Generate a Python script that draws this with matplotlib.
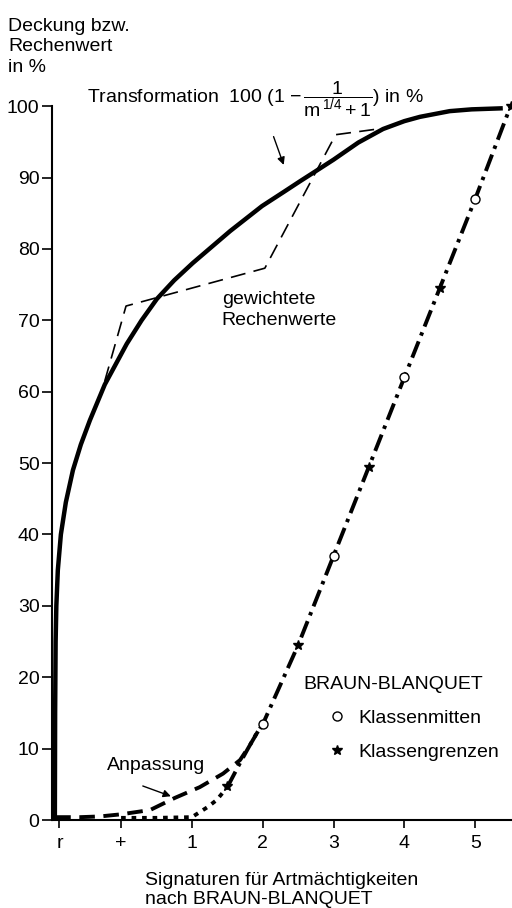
import numpy as np
import matplotlib.pyplot as plt
from matplotlib.lines import Line2D

plt.rcParams['font.family'] = ['Liberation Sans', 'DejaVu Sans']
plt.rcParams['mathtext.fontset'] = 'custom'
plt.rcParams['mathtext.rm'] = 'Liberation Sans'
plt.rcParams['mathtext.it'] = 'Liberation Sans'

# tick positions / labels on the x axis (Braun-Blanquet signatures)
tick_pos = [-0.87, 0, 1, 2, 3, 4, 5]
tick_labels = ['r', '+', '1', '2', '3', '4', '5']

# transformation curve 100 (1 - 1/(m^1/4 + 1))
trans_x = [-0.935, -0.931, -0.924, -0.914, -0.893, -0.85, -0.78, -0.68, -0.568,
           -0.44, -0.23, 0.08, 0.29, 0.506, 0.75, 1.01, 1.54, 1.99, 2.3, 2.53,
           2.75, 3.0, 3.35, 3.7, 4.0, 4.22, 4.64, 4.95, 5.39]
trans_y = [0, 15, 25, 30, 35, 40, 44.5, 49, 52.6,
           56, 61, 66.7, 70, 73, 75.6, 78, 82.5, 86, 88, 89.5,
           90.9, 92.5, 94.9, 96.8, 97.9, 98.5, 99.3, 99.55, 99.7]

# gewichtete Rechenwerte
weighted_x = [-0.23, 0.07, 2.03, 3.03, 3.7]
weighted_y = [61.5, 72, 77.3, 96, 96.9]

# Anpassung
fit_x = [-0.93, -0.58, -0.3, 0.0, 0.41, 0.76, 1.11, 1.44, 1.68, 1.82, 1.92, 1.99]
fit_y = [0.4, 0.4, 0.5, 0.8, 1.4, 3.1, 4.6, 6.5, 8.4, 10.5, 12.2, 13.4]

# Braun-Blanquet line, dotted lower part and dash-dot upper part
bb_low_x = [0.0, 0.5, 1.0, 1.22, 1.35, 1.5]
bb_low_y = [0.3, 0.3, 0.4, 1.8, 2.8, 4.6]
bb_x = [1.5, 1.68, 1.78, 1.9, 2.0, 2.5, 3.0, 3.5, 4.0, 4.5, 5.0, 5.5]
bb_y = [4.6, 8.0, 9.8, 11.9, 13.4, 24.5, 37, 49.5, 62, 74.5, 87, 100]

# class midpoints and class limits
mid_x = [2, 3, 4, 5]
mid_y = [13.5, 37, 62, 87]
lim_x = [1.5, 2.5, 3.5, 4.5, 5.5]
lim_y = [4.7, 24.5, 49.5, 74.5, 100]

fs = 14
fig = plt.figure(figsize=(5.12, 9.08), dpi=100)
ax = fig.add_axes([0.1016, 0.0969, 0.8984, 0.7862])

ax.plot(trans_x, trans_y, color='black', lw=3.2, solid_capstyle='butt',
        solid_joinstyle='round')
ax.plot(weighted_x, weighted_y, color='black', lw=1.2, dashes=(9, 5))
ax.plot(fit_x, fit_y, color='black', lw=2.8, dashes=(4, 2.2))
ax.plot(bb_low_x, bb_low_y, color='black', lw=2.8, dashes=(1.2, 1.5))
ax.plot(bb_x, bb_y, color='black', lw=2.8, dashes=(4.5, 1.6, 0.9, 1.6))
ax.plot(mid_x, mid_y, 'o', ms=6.5, mfc='white', mec='black', mew=1.0, zorder=5)
ax.plot(lim_x, lim_y, '*', ms=7, color='black', zorder=5, clip_on=False)

ax.set_xlim(-0.975, 5.52)
ax.set_ylim(0, 100)
ax.set_xticks(tick_pos)
ax.set_xticklabels(tick_labels, fontsize=fs)
ax.set_yticks(np.arange(0, 101, 10))
ax.tick_params(axis='y', labelsize=fs, length=7, width=1.2, pad=2)
ax.tick_params(axis='x', length=6, width=1.2, pad=5)
for side in ['top', 'right']:
    ax.spines[side].set_visible(False)
ax.spines['left'].set_linewidth(1.5)
ax.spines['bottom'].set_linewidth(1.5)

ax.set_xlabel('Signaturen für Artmächtigkeiten\nnach BRAUN-BLANQUET',
              fontsize=fs, multialignment='left', labelpad=14, linespacing=1.2)

fig.text(0.016, 0.980, 'Deckung bzw.\nRechenwert\nin %', fontsize=fs,
         va='top', ha='left', linespacing=1.25)

ax.text(-0.48, 101.0, r'Transformation  100 (1 $-\,\dfrac{1}{\mathregular{m}^{\,1/4}+1}$) in %',
        fontsize=fs, va='center', ha='left')
ax.annotate('', xy=(2.31, 91.4), xytext=(2.14, 96.1),
            arrowprops=dict(arrowstyle='-|>', color='black', lw=1.0,
                            mutation_scale=11))

ax.text(1.42, 71.4, 'gewichtete\nRechenwerte', fontsize=fs, ha='left', va='center',
        linespacing=1.3)

ax.text(-0.2, 7.7, 'Anpassung', fontsize=fs, ha='left', va='center')
ax.annotate('', xy=(0.74, 3.2), xytext=(0.27, 4.9),
            arrowprops=dict(arrowstyle='-|>', color='black', lw=1.0,
                            mutation_scale=11))

handles = [Line2D([], [], ls='none', marker='o', ms=6.5, mfc='white', mec='black'),
           Line2D([], [], ls='none', marker='*', ms=7, color='black')]
leg = ax.legend(handles, ['Klassenmitten', 'Klassengrenzen'], title='BRAUN-BLANQUET',
                loc='upper left', bbox_to_anchor=(0.53, 0.212), frameon=False,
                fontsize=fs, title_fontsize=fs, alignment='left',
                handlelength=3.4, handletextpad=-0.6, labelspacing=0.82,
                borderaxespad=0)

fig.savefig('out.png', dpi=100)
